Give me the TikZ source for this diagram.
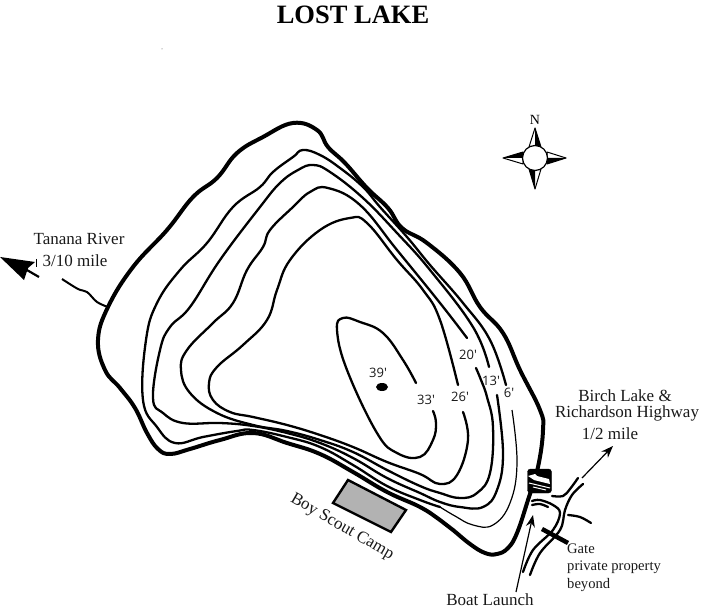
\documentclass[tikz,border=0pt]{standalone}
\usepackage{fontspec}
\setmainfont{Liberation Serif}
\newfontfamily\depthfont{Open Sans}
\usetikzlibrary{arrows.meta}
\tikzset{
  shore/.style={line width=4pt,line join=round,line cap=round},
  contour/.style={line width=2.3pt,line join=round,line cap=round},
  thincontour/.style={line width=1.2pt,line join=round},
  roadline/.style={line width=2.3pt,line cap=round},
  depth/.style={font=\depthfont\fontsize{13}{13}\selectfont,inner sep=0pt,text=black!90},
  lbl/.style={font=\fontsize{17}{19}\selectfont,inner sep=0pt,text=black!90},
  lblsmall/.style={font=\fontsize{14.6}{16}\selectfont,inner sep=0pt,text=black!90},
  pointer/.style={line width=1.2pt,-{Stealth[length=12pt,width=9pt]}},
}
\begin{document}
\begin{tikzpicture}[x=1pt,y=-1pt]
\useasboundingbox (0,0) rectangle (701,612);
% shoreline
\draw[shore] plot[smooth cycle,tension=.7] coordinates {
 (108,307)(133,267)(167,230)(193,197)(217,178)(237,153)(263,137)(293,123)(317,130)(328,147)(345,163)
 (367,188)(388,208)(402,228)(427,243)(460,273)(480,307)(503,333)(520,370)(540,410)(543,430)(538,467)
 (528,500)(517,533)(508,548)(497,554)(485,553)(470,544)(453,530)(440,520)(420,507)(387,492)(353,472)(320,454)(287,443)(253,433)
 (220,440)(190,449)(170,454)(158,449)(147,433)(135,408)(120,388)(105,370)(98,340)};
% 6 ft
\draw[contour] plot[smooth,tension=.7] coordinates {
 (506,385)(490,340)(463,303)(430,265)(407,237)(380,207)(363,187)(340,168)(320,155)(303,150)(293,157)(273,172)(260,187)
 (233,207)(207,243)(180,270)(157,303)(146,340)(143,400)(157,427)(175,443)(203,437)(237,431)(253,430)(287,437)(320,447)(353,465)(387,486)(420,500)(440,507)};
\draw[thincontour] plot[smooth,tension=.7] coordinates {
 (440,507)(455,516)(473,525)(493,525)(510,503)(517,463)(512,410)};
% 13 ft
\draw[contour] plot[smooth,tension=.7] coordinates {
 (489,367)(473,327)(430,270)(397,233)(363,198)(330,172)(313,165)(298,170)(280,183)(260,207)(220,260)(190,307)(170,327)(160,350)
 (153,398)(163,413)(183,423)(220,423)(253,426)(287,433)(320,443)(353,458)(387,478)(420,493)(440,502)(460,507)(483,507)(497,490)(503,453)(497,395)};
% 20 ft
\draw[contour] plot[smooth,tension=.7] coordinates {
 (467,338)(440,303)(397,250)(360,205)(328,188)(310,192)(293,207)(270,230)(263,247)(247,270)(233,303)(213,323)(187,350)
 (181,370)(190,393)(217,413)(253,425)(287,431)(320,440)(353,452)(387,470)(420,486)(440,493)(460,498)(477,493)(490,473)(493,427)(487,397)(481,380)(476,368)};
% 26 ft
\draw[contour] plot[smooth,tension=.7] coordinates {
 (458,385)(440,320)(423,290)(397,260)(367,223)(350,218)(320,230)(290,260)(277,290)(267,320)(243,345)(217,367)(209,383)(213,400)(230,412)
 (253,417)(287,425)(320,435)(353,447)(387,462)(420,474)(440,484)(457,475)(468,440)(463,412)};
% 33 ft
\draw[contour] plot[smooth,tension=.7] coordinates {
 (416,383)(403,360)(383,333)(360,322)(343,318)(337,330)(347,370)(377,433)(397,453)(420,457)(433,440)(436,423)(433,411)};
\fill (382,387) ellipse [x radius=6,y radius=4];
% river
\coordinate (riverend) at (62,279);
\coordinate (shorept) at (108,307);
\draw[line width=2pt] plot[smooth,tension=.6] coordinates {(riverend)(78,289)(87,292)(97,302)(shorept)};
\fill (0,257) -- (35,262) -- (28,268) -- (24,280) -- cycle;
\draw[line width=2.2pt] (20,266) -- (39,277);
\draw[line width=1pt] (36,259) -- (36,267);
% camp
\draw[line width=2.4pt,fill=black!30] (348,480) -- (406,510) -- (391,532) -- (333,503) -- cycle;
% compass
\foreach \a/\b/\c/\d/\e/\f in {535/128/529/147/541/147,566/158/547/152/547/164,535/189/529/169/541/169,503/158/523/152/523/164}{
  \draw[line width=1pt,fill=white,line join=round] (\a,\b) -- (\c,\d) -- (\e,\f) -- cycle;
}
\fill (535,128) -- (541,147) -- (535,147) -- cycle;
\fill (566,158) -- (547,164) -- (547,158) -- cycle;
\fill (535,189) -- (529,169) -- (535,169) -- cycle;
\fill (503,158) -- (523,152) -- (523,158) -- cycle;
\node[circle,draw,line width=1.2pt,minimum size=25pt,inner sep=0pt,fill=white] (cmp) at (535,158) {};
% roads
\draw[roadline] plot[smooth,tension=.6] coordinates {(552,496)(563,496)(570,489)(578,478)};
\draw[roadline] plot[smooth,tension=.6] coordinates {(583,484)(572,495)(565,510)(560,530)(540,553)(530,575)};
\draw[roadline] plot[smooth,tension=.6] coordinates {(532,501)(540,500)(553,505)(560,513)(553,530)(533,550)(523,572)};
\draw[roadline] plot[smooth,tension=.6] coordinates {(532,505)(540,504)(548,507)};
\draw[roadline] plot[smooth,tension=.6] coordinates {(568,515)(580,517)(591,523)};
\draw[line width=4.5pt] (542,529) -- (568,543);
% boat launch icon
\node[draw=black,fill=black,rounded corners=3pt,minimum size=24pt,inner sep=0pt] (icon) at (539.5,481) {};
\fill[white] (528,476) -- (535,474) -- (537,476) -- (549,479) -- (550,484) -- (534,480) -- cycle;
\draw[white,line width=1pt] (529,483) -- (550,488);
\draw[white,line width=1pt] (533,487) -- (546,490);
% pointers
\coordinate (hwystart) at (582,478);
\coordinate (hwyend) at (613,446);
\draw[pointer] (hwystart) -- (hwyend);
% labels
\node[font=\bfseries\fontsize{26.5}{27}\selectfont,inner sep=0pt,text=black] (title) at (353,15) {LOST LAKE};
\fill[black!70] (162,49) circle (.5);
\node[font=\fontsize{14}{14}\selectfont,inner sep=0pt] (n) at (535,120) {N};
\node[lbl] (tr) at (79,239) {Tanana River};
\node[lbl] (tm) at (75,261) {3/10 mile};
\node[lbl] (bl) at (625,396) {Birch Lake \&};
\node[lbl] (rh) at (627,413) {Richardson Highway};
\node[lbl] (hm) at (610,434) {1/2 mile};
\node[lblsmall,anchor=west] (gt) at (567,549) {Gate};
\node[lblsmall,anchor=west] (pp) at (567,567) {private property};
\node[lblsmall,anchor=west] (by) at (567,585) {beyond};
\node[lbl] (launch) at (490,600) {Boat Launch};
\coordinate (launchtip) at (533,515);
\draw[pointer] (516,592) -- (launchtip);
\node[lbl,rotate=-30] (camp) at (342,527) {Boy Scout Camp};
\node[depth] (d39) at (378,373) {39'};
\node[depth] (d33) at (426,400) {33'};
\node[depth] (d26) at (460,397) {26'};
\node[depth] (d20) at (468,355) {20'};
\node[depth] (d13) at (491,381) {13'};
\node[depth] (d6) at (509,393) {6'};
\end{tikzpicture}
\end{document}
